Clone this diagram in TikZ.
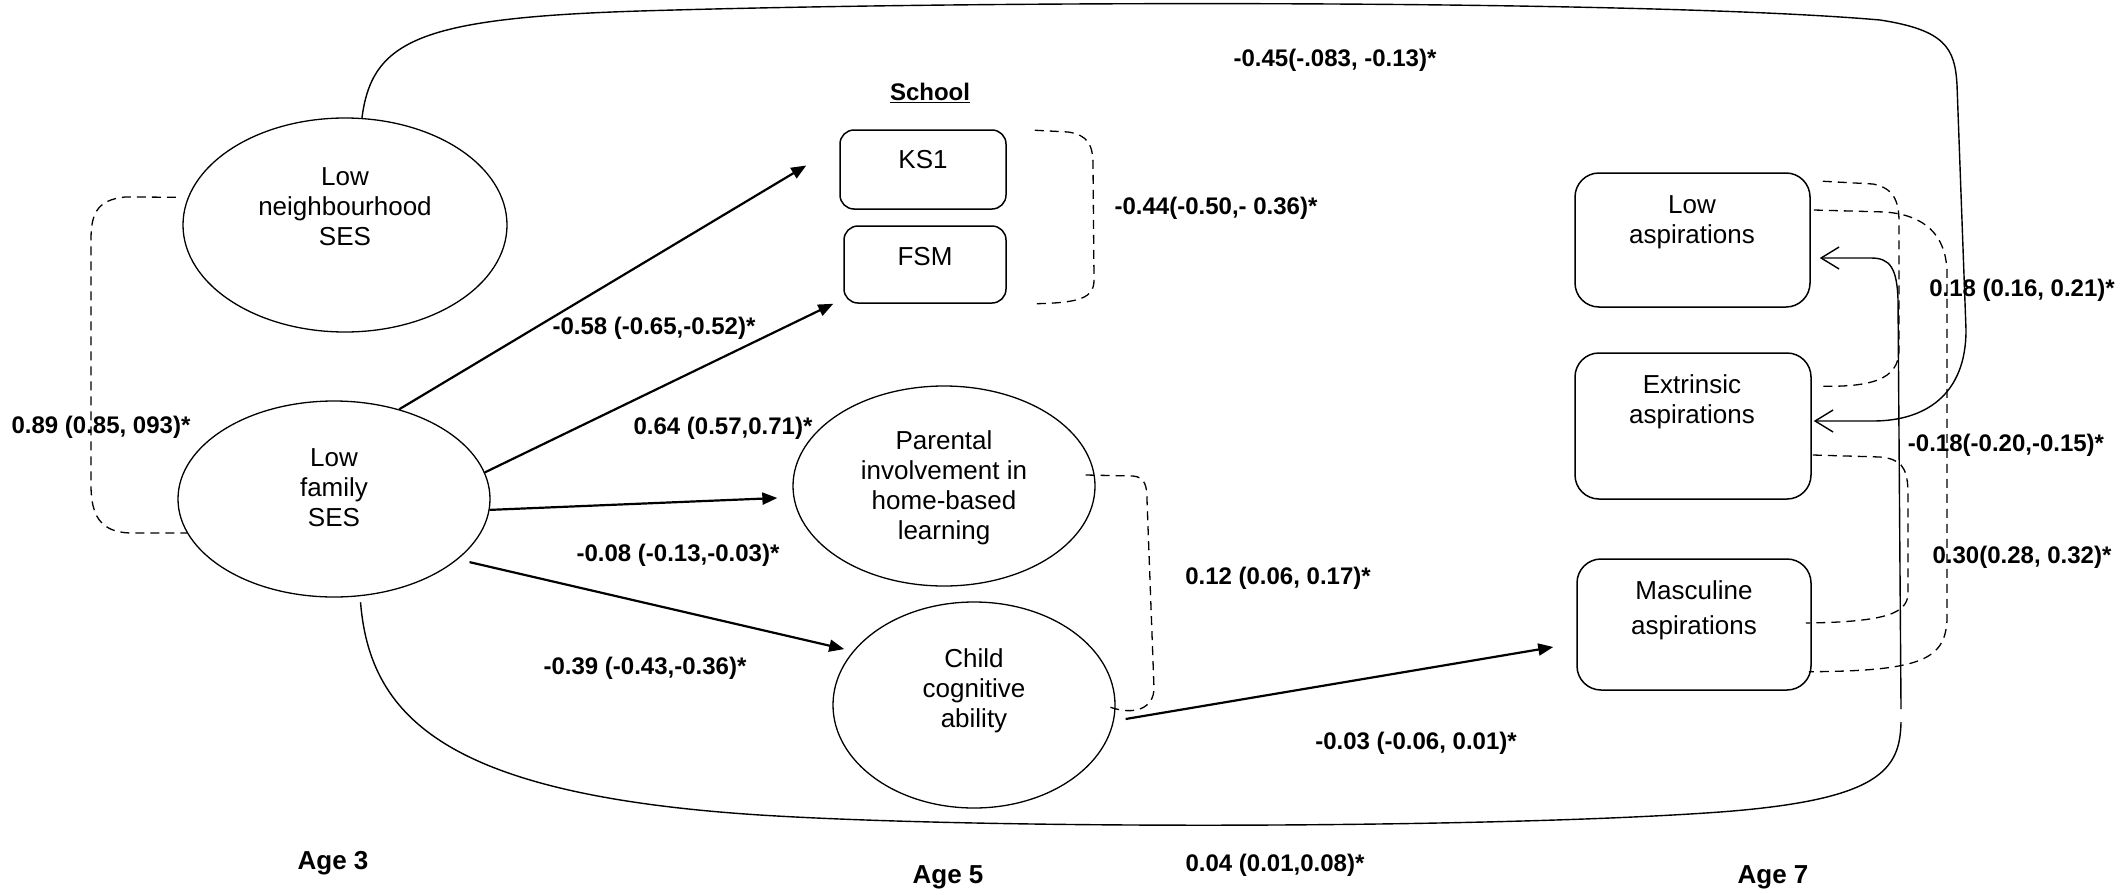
\documentclass[tikz,border=0pt]{standalone}
\usepackage{fontspec}
\setmainfont{Liberation Sans}
\usetikzlibrary{arrows.meta,calc,shapes.geometric}

\begin{document}
\begin{tikzpicture}[x=1pt,y=-1pt,
  oval/.style={draw,ellipse,line width=1.3pt,inner sep=0pt},
  box/.style={draw,rectangle,rounded corners=#1,line width=1.5pt,inner sep=0pt},
  box/.default=14pt,
  txt/.style={font=\fontsize{26}{30}\selectfont,align=center,inner sep=0pt},
  lab/.style={font=\fontsize{24}{28}\selectfont\bfseries,inner sep=0pt},
  agelab/.style={font=\fontsize{26}{30}\selectfont\bfseries,inner sep=0pt},
  path/.style={line width=1.4pt},
  effect/.style={line width=2.2pt,-{Triangle[length=15pt,width=12pt]}},
  openhead/.style={-{Straight Barb[length=18pt,width=22pt]}},
  corr/.style={line width=1.3pt,dash pattern=on 9pt off 6pt}]
\useasboundingbox (0,0) rectangle (2127,894);

% latent and observed variables
\node[oval,minimum width=324pt,minimum height=214pt] (nb) at (345,225) {};
\node[oval,minimum width=312pt,minimum height=196pt] (fam) at (334,499) {};
\node[box,minimum width=166pt,minimum height=79pt] (ks1) at (923,169.5) {};
\node[box,minimum width=162pt,minimum height=77pt] (fsm) at (925,264.5) {};
\node[oval,minimum width=302pt,minimum height=200pt] (par) at (944,486) {};
\node[oval,minimum width=282pt,minimum height=206pt] (child) at (974,705) {};
\node[box=24pt,minimum width=235pt,minimum height=134pt] (lowasp) at (1692.5,240) {};
\node[box=24pt,minimum width=236pt,minimum height=146pt] (extasp) at (1693,426) {};
\node[box=24pt,minimum width=234pt,minimum height=131pt] (masc) at (1694,624.5) {};

% variable names
\node[txt] (nbtext) at (345,207) {Low\\neighbourhood\\SES};
\node[txt] (famtext) at (334,488) {Low\\family\\SES};
\node[txt] (ks1text) at (923,160) {KS1};
\node[txt] (fsmtext) at (925,257) {FSM};
\node[txt] (partext) at (944,488) {Parental\\involvement in\\home-based\\learning};
\node[txt] (childtext) at (974,691) {Child\\cognitive\\ability};
\node[txt] (lowtext) at (1692,222) {Low\\aspirations};
\node[txt] (exttext) at (1692,402) {Extrinsic\\aspirations};
\node[txt,font=\fontsize{26}{35}\selectfont] (masctext) at (1694,610) {Masculine\\aspirations};
\node[lab] (school) at (930,93) {\underline{School}};

% direct effects of family SES
\draw[effect] (fam.54) -- ($(ks1.west)+(-33,-4)$);
\draw[effect] (fam.10) -- ($(fsm.south west)+(-10,0)$);
\draw[effect] (fam.-4) -- ($(par.west)+(-15,12)$);
\draw[effect,shorten <=12pt,shorten >=9pt] (fam.-26) -- (child.156);
\draw[effect] ($(child.east)+(10,14)$) -- ($(masc.west)+(-23,22.5)$);

% long paths to age 7 aspirations
\draw[path,openhead] (nb.81) .. controls (372,40) and (420,18) .. (640,11)
  .. controls (1000,0) and (1650,0) .. (1880,20)
  .. controls (1945,30) and (1955,48) .. (1957,85) -- (1966,330)
  .. controls (1966,395) and (1925,421) .. (1873,421) -- ($(extasp.east)+(2,-5)$);
\coordinate (bend) at (1901,722);
\coordinate (vbot) at (1901,709);
\draw[path,shorten <=6pt] (fam.-75) .. controls (370,720) and (450,795) .. (760,815)
  .. controls (1000,830) and (1500,828) .. (1720,812)
  .. controls (1880,800) and (1900,770) .. (bend);
\draw[path,openhead] (vbot) -- (1898,300) .. controls (1897,268) and (1890,258) .. (1871,258)
  -- ($(lowasp.east)+(9,18)$);

% correlations
\draw[corr,shorten <=12pt] (nb.170) -- (125,197) .. controls (96,200) and (91,215) .. (91,240)
  -- (91,485) .. controls (91,515) and (100,532) .. (130,533) -- (fam.-167);
\draw[corr] ($(ks1.north east)+(28,1)$) -- (1068,132) .. controls (1088,135) and (1093,145) .. (1093,165)
  -- (1094,280) .. controls (1094,298) and (1080,303) .. ($(fsm.south east)+(27,0)$);
\draw[corr] ($(par.east)+(-10,-11)$) -- (1133,476) .. controls (1145,477) and (1147,486) .. (1147,500)
  -- (1154,688) .. controls (1154,708) and (1135,716) .. ($(child.east)+(-6,2)$);
\draw[corr] ($(lowasp.north east)+(12,9)$) -- (1873,184) .. controls (1893,188) and (1899,200) .. (1899,222)
  -- (1899,350) .. controls (1899,380) and (1870,387) .. ($(extasp.north east)+(10,34)$);
\draw[corr] ($(lowasp.east)+(3,-30)$) -- (1885,212) .. controls (1925,215) and (1946,235) .. (1947,272)
  -- (1947,620) .. controls (1945,660) and (1920,671) .. ($(masc.south east)+(-3,-19)$);
\draw[corr] ($(extasp.east)+(1,29)$) -- (1880,457) .. controls (1900,459) and (1907,466) .. (1908,490)
  -- (1908,595) .. controls (1906,612) and (1890,622) .. ($(masc.east)+(-6,-1.5)$);

% coefficients
\node[lab] (c1) at (101,427) {0.89 (0.85, 093)*};
\node[lab] (c2) at (654,328) {-0.58 (-0.65,-0.52)*};
\node[lab] (c3) at (723,428) {0.64 (0.57,0.71)*};
\node[lab] (c4) at (678,555) {-0.08 (-0.13,-0.03)*};
\node[lab] (c5) at (645,668) {-0.39 (-0.43,-0.36)*};
\node[lab] (c6) at (1335,60) {-0.45(-.083, -0.13)*};
\node[lab] (c7) at (1216,208) {-0.44(-0.50,- 0.36)*};
\node[lab] (c8) at (1278,578) {0.12 (0.06, 0.17)*};
\node[lab] (c9) at (1416,743) {-0.03 (-0.06, 0.01)*};
\node[lab] (c10) at (1275,865) {0.04 (0.01,0.08)*};
\node[lab] (c11) at (2022,290) {0.18 (0.16, 0.21)*};
\node[lab] (c12) at (2006,445) {-0.18(-0.20,-0.15)*};
\node[lab] (c13) at (2022,557) {0.30(0.28, 0.32)*};

% ages
\node[agelab] (age3) at (333,863) {Age 3};
\node[agelab] (age5) at (948,877) {Age 5};
\node[agelab] (age7) at (1773,877) {Age 7};
\end{tikzpicture}
\end{document}
